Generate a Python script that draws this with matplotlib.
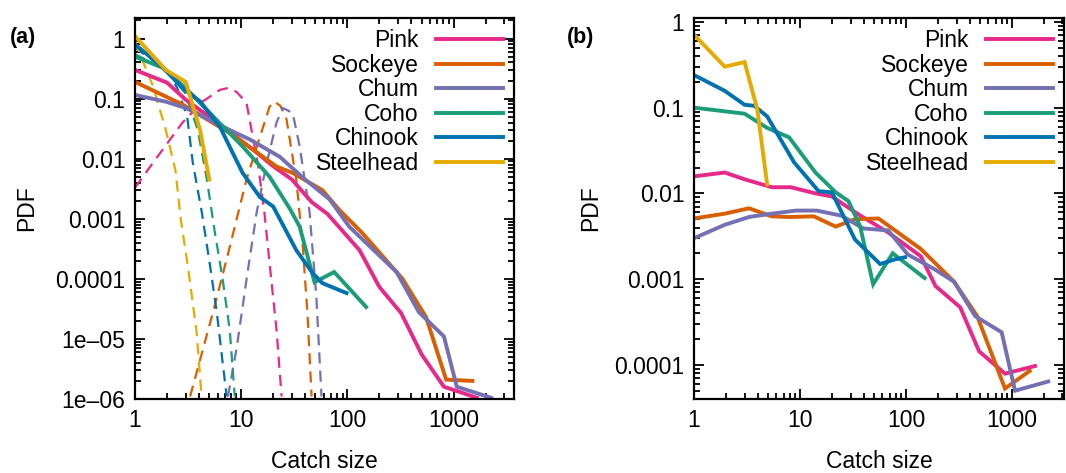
import matplotlib
matplotlib.use("Agg")
import matplotlib.pyplot as plt
from matplotlib.ticker import LogLocator, FixedLocator, FixedFormatter, NullFormatter

plt.rcParams['font.family'] = ['Liberation Sans', 'DejaVu Sans']

species = ["Pink", "Sockeye", "Chum", "Coho", "Chinook", "Steelhead"]
colors = ["#e7298a", "#d95f02", "#7570b3", "#1b9e77", "#0072b2", "#e6ab02"]

# panel (a): empirical PDFs (solid)
pink_x = [1, 2, 3, 5, 8, 13, 20, 30, 46, 65, 130, 200, 320, 500, 810, 1650]
pink_y = [0.30, 0.185, 0.096, 0.05, 0.027, 0.014, 0.0075, 0.0045, 0.0019, 0.0012, 3.0e-4, 7.3e-5, 2.7e-5, 5.5e-6, 1.6e-6, 1.05e-6]
sock_x = [1, 2.8, 8.3, 21.5, 30.5, 58, 84, 138, 330, 550, 850, 1500]
sock_y = [0.19, 0.08, 0.025, 0.0074, 0.0058, 0.003, 0.0014, 5.8e-4, 1.0e-4, 2.3e-5, 2.1e-6, 2.0e-6]
chum_x = [1, 1.95, 3, 7.8, 12, 23, 40, 68, 104, 290, 470, 810, 1070, 2250]
chum_y = [0.115, 0.089, 0.07, 0.030, 0.021, 0.0108, 0.0045, 0.0021, 7.4e-4, 1.3e-4, 2.8e-5, 1.1e-5, 1.6e-6, 1.05e-6]
coho_x = [1, 1.8, 3, 5.8, 10.3, 18.5, 28.5, 35.5, 49, 75, 150]
coho_y = [0.5, 0.33, 0.15, 0.045, 0.016, 0.005, 0.0015, 7.4e-4, 8.8e-5, 1.3e-4, 3.4e-5]
chin_x = [1, 1.8, 2.8, 4.1, 6.3, 8.3, 10.3, 15, 20, 33, 47, 58, 98]
chin_y = [0.8, 0.34, 0.15, 0.09, 0.034, 0.0126, 0.0058, 0.0023, 0.0016, 3.0e-4, 1.25e-4, 8.5e-5, 5.8e-5]
steel_x = [1, 1.95, 3, 4.1, 5]
steel_y = [1.1, 0.3, 0.19, 0.03, 0.0045]

# panel (a): fitted distributions (dashed)
pink_fx = [1, 1.48, 2.8, 4.35, 6.3, 7.5, 9.0, 11.2, 12.5, 14.3, 16.5, 18.5, 21.5, 24]
pink_fy = [3.3e-3, 8.6e-3, 0.04, 0.09, 0.14, 0.15, 0.13, 0.086, 0.030, 8.6e-3, 1.3e-3, 1.8e-4, 1.4e-5, 1.1e-6]
sock_fx = [3.3, 5.4, 7.8, 11.2, 15, 18.5, 20.6, 23.5, 26.7, 33, 38, 42, 46]
sock_fy = [1.1e-6, 2.7e-5, 3.4e-4, 4.5e-3, 0.023, 0.074, 0.089, 0.075, 0.045, 4.5e-3, 3.4e-4, 2.7e-5, 1.1e-6]
chum_fx = [7.5, 9.1, 11.2, 14, 17.4, 21.5, 24.6, 30.5, 35.5, 44, 51, 57]
chum_fy = [1.1e-6, 7.4e-6, 9.6e-5, 1.3e-3, 8.6e-3, 0.04, 0.07, 0.058, 0.016, 1.3e-3, 5e-5, 1.1e-6]
coho_fx = [1, 2, 3, 3.9, 4.75, 5.6, 6.7, 7.8, 8.7]
coho_fy = [0.55, 0.3, 0.12, 0.030, 4.5e-3, 6.5e-4, 9.6e-5, 1.4e-5, 1.1e-6]
chin_fx = [1, 2, 2.5, 3.1, 3.5, 4.25, 5.05, 5.9, 6.7, 7.3]
chin_fy = [0.7, 0.3, 0.15, 0.05, 8.6e-3, 1.3e-3, 1.8e-4, 2.7e-5, 3.9e-6, 1.1e-6]
steel_fx = [1, 1.1, 1.48, 1.95, 2.4, 2.7, 3.15, 3.8, 4.25]
steel_fy = [0.9, 0.58, 0.16, 0.03, 6.5e-3, 9.6e-4, 1.6e-4, 1.3e-5, 1e-6]

# panel (b)
b_pink_x = [1, 1.95, 3, 5.4, 8.2, 14, 20, 35.5, 68, 138, 190, 325, 490, 860, 1650]
b_pink_y = [0.0158, 0.0175, 0.0146, 0.0118, 0.0118, 0.0100, 0.0092, 5.7e-3, 3.5e-3, 1.85e-3, 8.3e-4, 4.7e-4, 1.44e-4, 7.9e-5, 9.7e-5]
b_sock_x = [1, 1.95, 3.3, 5.4, 7.9, 13.5, 21.7, 33, 55, 138, 285, 470, 860, 1470]
b_sock_y = [5.1e-3, 5.8e-3, 6.7e-3, 5.4e-3, 5.3e-3, 5.4e-3, 4.1e-3, 5.0e-3, 5.1e-3, 2.25e-3, 9.3e-4, 3.7e-4, 5.3e-5, 8.5e-5]
b_chum_x = [1, 1.95, 3.3, 5.4, 9.2, 14.4, 24.6, 39.6, 68, 104, 187, 285, 450, 800, 1070, 2200]
b_chum_y = [3.0e-3, 4.3e-3, 5.3e-3, 5.8e-3, 6.3e-3, 6.3e-3, 5.5e-3, 3.9e-3, 3.7e-3, 1.94e-3, 1.3e-3, 9.3e-4, 3.7e-4, 2.4e-4, 5.0e-5, 6.4e-5]
b_coho_x = [1, 3, 4.9, 7.9, 14, 21.7, 28.7, 37, 49, 75, 150]
b_coho_y = [0.1, 0.085, 0.058, 0.045, 0.0175, 0.0103, 0.0081, 4.1e-3, 8.7e-4, 2.0e-3, 1.03e-3]
b_chin_x = [1, 1.95, 3, 3.7, 4.9, 8.8, 15, 20, 33, 57, 79, 98]
b_chin_y = [0.24, 0.157, 0.108, 0.105, 0.079, 0.023, 0.0106, 0.0103, 2.9e-3, 1.5e-3, 1.7e-3, 1.8e-3]
b_steel_x = [1, 1.95, 3, 3.96, 4.9]
b_steel_y = [0.71, 0.30, 0.34, 0.095, 0.0127]

a_solid = [(pink_x, pink_y), (sock_x, sock_y), (chum_x, chum_y), (coho_x, coho_y), (chin_x, chin_y), (steel_x, steel_y)]
a_dash = [(pink_fx, pink_fy), (sock_fx, sock_fy), (chum_fx, chum_fy), (coho_fx, coho_fy), (chin_fx, chin_fy), (steel_fx, steel_fy)]
b_solid = [(b_pink_x, b_pink_y), (b_sock_x, b_sock_y), (b_chum_x, b_chum_y), (b_coho_x, b_coho_y), (b_chin_x, b_chin_y), (b_steel_x, b_steel_y)]

a_ticks = [1, 0.1, 0.01, 0.001, 0.0001, 1e-5, 1e-6]
a_labels = ["1", "0.1", "0.01", "0.001", "0.0001", "1e\u201305", "1e\u201306"]
b_ticks = [1, 0.1, 0.01, 0.001, 0.0001]
b_labels = ["1", "0.1", "0.01", "0.001", "0.0001"]
x_ticks = [1, 10, 100, 1000]
x_labels = ["1", "10", "100", "1000"]

fs = 16.5
fig = plt.figure(figsize=(10.66, 4.73), dpi=100)
W, H = 1066, 473
axa = fig.add_axes([135 / W, 1 - 399 / H, (514 - 135) / W, (399 - 18) / H])
axb = fig.add_axes([694 / W, 1 - 399 / H, (1064 - 694) / W, (399 - 18) / H])


def style(ax, yt, yl, ylim, xmax):
    ax.set_xscale("log")
    ax.set_yscale("log")
    ax.set_xlim(1, xmax)
    ax.set_ylim(*ylim)
    ax.xaxis.set_major_locator(FixedLocator(x_ticks))
    ax.xaxis.set_major_formatter(FixedFormatter(x_labels))
    ax.xaxis.set_minor_locator(LogLocator(base=10, subs=range(2, 10), numticks=20))
    ax.xaxis.set_minor_formatter(NullFormatter())
    ax.yaxis.set_major_locator(FixedLocator(yt))
    ax.yaxis.set_major_formatter(FixedFormatter(yl))
    ax.yaxis.set_minor_locator(LogLocator(base=10, subs=range(2, 10), numticks=20))
    ax.yaxis.set_minor_formatter(NullFormatter())
    ax.tick_params(which="both", direction="in", top=True, right=True, width=1.3, labelsize=fs)
    ax.tick_params(which="major", length=7, pad=7)
    ax.tick_params(which="minor", length=4)
    for s in ax.spines.values():
        s.set_linewidth(1.6)
    ax.set_xlabel("Catch size", fontsize=fs, labelpad=13)
    ax.set_ylabel("PDF", fontsize=fs)


for (x, y), c in zip(a_dash, colors):
    axa.plot(x, y, color=c, lw=1.6, dashes=(5, 3.2))
for (x, y), c, name in zip(a_solid, colors, species):
    axa.plot(x, y, color=c, lw=2.8, label=name, solid_joinstyle="miter")
for (x, y), c, name in zip(b_solid, colors, species):
    axb.plot(x, y, color=c, lw=2.8, label=name, solid_joinstyle="miter")

style(axa, a_ticks, a_labels, (1e-6, 2.2), 3700)
style(axb, b_ticks, b_labels, (4e-5, 1.11), 3100)
axa.yaxis.set_label_coords(-0.255, 0.5)
axb.yaxis.set_label_coords(-0.249, 0.5)

for ax in (axa, axb):
    ax.legend(loc="upper right", bbox_to_anchor=(1, 1), frameon=False, markerfirst=False,
              fontsize=fs, handlelength=2.93, handletextpad=0.74, labelspacing=0.07,
              borderaxespad=0.0, borderpad=0.48)

fig.text(10 / W, 1 - 38 / H, "(a)", fontsize=15.5, fontweight="bold", va="center")
fig.text(567 / W, 1 - 38 / H, "(b)", fontsize=15.5, fontweight="bold", va="center")

fig.savefig("out.png", dpi=100)
